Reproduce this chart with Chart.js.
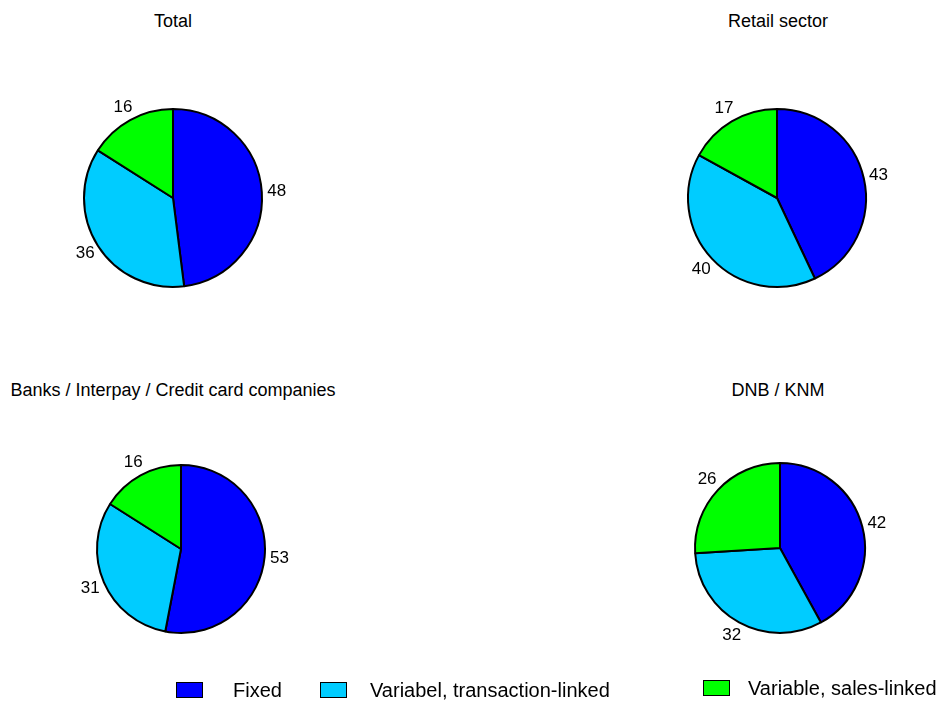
<!DOCTYPE html>
<html>
<head>
<meta charset="utf-8">
<script src="https://cdn.jsdelivr.net/npm/chart.js@4.4.1/dist/chart.umd.min.js"></script>
<style>
  body { margin: 0; background: #fff; font-family: "Liberation Sans", Arial, sans-serif; }
  #page { position: relative; width: 937px; height: 702px; overflow: hidden; }
  .title { position: absolute; font-size: 18px; line-height: 22px; color: #000; white-space: nowrap; transform: translateX(-50%); }
  .pie { position: absolute; width: 300px; height: 300px; }
  .leg-box { position: absolute; width: 25px; height: 14px; border: 1px solid #000; }
  .leg-text { position: absolute; font-size: 20px; line-height: 22px; color: #000; white-space: nowrap; }
</style>
</head>
<body>
<div id="page"></div>
<script>
// categories and colours
const categories = ['Fixed', 'Variabel, transaction-linked', 'Variable, sales-linked'];
const sliceColors = ['#0000FF', '#00CCFF', '#00FF00'];

// panel titles
const panelTitles = ['Total', 'Retail sector', 'Banks / Interpay / Credit card companies', 'DNB / KNM'];

// values (%)
const totalValues = [48, 36, 16];
const retailValues = [43, 40, 17];
const banksValues = [53, 31, 16];
const dnbValues = [42, 32, 26];

const panelValues = [totalValues, retailValues, banksValues, dnbValues];

// layout: pie centre, radius, title position
const panels = [
    { cx: 173, cy: 198, r: 90, tx: 173, ty: 10 },
    { cx: 777, cy: 198, r: 90, tx: 778, ty: 10 },
    { cx: 181, cy: 549, r: 85, tx: 173, ty: 379 },
    { cx: 780, cy: 548, r: 86, tx: 778, ty: 379 }
];

const page = document.getElementById('page');
const SIZE = 300;

// tekst buiten de taartpunten
const outsideLabels = {
    id: 'outsideLabels',
    afterDatasetsDraw(chart) {
        const ctx = chart.ctx;
        const meta = chart.getDatasetMeta(0);
        ctx.save();
        ctx.font = '17px "Liberation Sans", Arial, sans-serif';
        ctx.fillStyle = '#000';
        ctx.textAlign = 'center';
        ctx.textBaseline = 'middle';
        meta.data.forEach((arc, i) => {
            const mid = (arc.startAngle + arc.endAngle) / 2;
            const dist = arc.outerRadius + 15;
            const x = arc.x + Math.cos(mid) * dist;
            const y = arc.y + Math.sin(mid) * dist;
            ctx.fillText(chart.data.datasets[0].data[i], x, y);
        });
        ctx.restore();
    }
};

panels.forEach((p, idx) => {
    const t = document.createElement('div');
    t.className = 'title';
    t.style.left = p.tx + 'px';
    t.style.top = p.ty + 'px';
    t.textContent = panelTitles[idx];
    page.appendChild(t);

    const wrap = document.createElement('div');
    wrap.className = 'pie';
    wrap.style.left = (p.cx - SIZE / 2) + 'px';
    wrap.style.top = (p.cy - SIZE / 2) + 'px';
    const canvas = document.createElement('canvas');
    wrap.appendChild(canvas);
    page.appendChild(wrap);

    new Chart(canvas, {
        type: 'pie',
        data: {
            labels: categories,
            datasets: [{
                data: panelValues[idx],
                backgroundColor: sliceColors,
                borderColor: '#000',
                borderWidth: 2,
                borderAlign: 'center'
            }]
        },
        options: {
            responsive: true,
            maintainAspectRatio: false,
            animation: false,
            layout: { padding: SIZE / 2 - p.r },
            plugins: {
                legend: { display: false },
                tooltip: { enabled: false }
            }
        },
        plugins: [outsideLabels]
    });
});

// legenda onderaan
const legendPos = [
    { bx: 176, by: 682, lx: 233 },
    { bx: 320, by: 682, lx: 370 },
    { bx: 703, by: 680, lx: 748 }
];
categories.forEach((c, i) => {
    const lp = legendPos[i];
    const box = document.createElement('div');
    box.className = 'leg-box';
    box.style.left = lp.bx + 'px';
    box.style.top = lp.by + 'px';
    box.style.background = sliceColors[i];
    page.appendChild(box);
    const txt = document.createElement('div');
    txt.className = 'leg-text';
    txt.style.left = lp.lx + 'px';
    txt.style.top = (lp.by - 3) + 'px';
    txt.textContent = c;
    page.appendChild(txt);
});
</script>
</body>
</html>
